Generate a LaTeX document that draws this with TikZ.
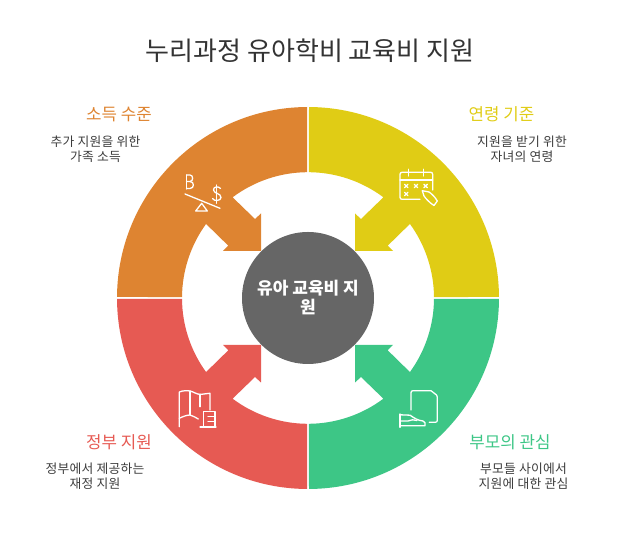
\documentclass[tikz,border=0pt]{standalone}
\usepackage{fontspec}
\setmainfont{Noto Sans CJK KR}
\newfontfamily\bodyfont[LetterSpace=2]{Noto Sans CJK KR}
\definecolor{cOrange}{HTML}{DE8431}
\definecolor{cYellow}{HTML}{E0CC15}
\definecolor{cGreen}{HTML}{3DC686}
\definecolor{cRed}{HTML}{E65A53}
\definecolor{cHub}{HTML}{666666}
\definecolor{cTitle}{HTML}{333333}
\definecolor{cBody}{HTML}{3C3C3C}
\newcommand{\quadpath}{%
  (89.7:191) arc[start angle=89.7,end angle=0.3,radius=191]
  -- (0.45:126) arc[start angle=0.45,end angle=36,radius=126]
  -- (79.7,52.3) -- (85,47) -- (47,47) -- (47,84.5) -- (53,79) -- (75.4,100.7)
  arc[start angle=53.2,end angle=89.55,radius=126] -- cycle}
\tikzset{
  titletext/.style={font=\fontsize{26}{30}\selectfont,text=cTitle,inner sep=0pt},
  headtext/.style={font=\fontsize{16.8}{18}\selectfont,inner sep=0pt},
  bodytext/.style={font=\bodyfont\fontsize{12.8}{15}\selectfont,text=cBody,inner sep=0pt,align=center},
  hubnode/.style={circle,fill=cHub,minimum size=132pt,inner sep=0pt,text=white,align=center,font=\fontsize{17}{19}\selectfont\bfseries},
  icon/.style={draw=white,line width=1.3pt,line cap=round,line join=round}
}
\begin{document}
\begin{tikzpicture}[x=1pt,y=1pt]
\useasboundingbox (0,0) rectangle (621,540);
\node[titletext] (title) at (310,489) {누리과정 유아학비 교육비 지원};
\begin{scope}[shift={(308,242)}]
  \fill[cYellow] \quadpath;
  \begin{scope}[xscale=-1] \fill[cOrange] \quadpath; \end{scope}
  \begin{scope}[yscale=-1] \fill[cGreen] \quadpath; \end{scope}
  \begin{scope}[xscale=-1,yscale=-1] \fill[cRed] \quadpath; \end{scope}
\end{scope}
\node[hubnode] (hub) at (308,242) {유아 교육비 지\\원};
% labels
\node[headtext,text=cOrange] (h1) at (119,425.5) {소득 수준};
\node[bodytext] (b1) at (95.5,391) {추가 지원을 위한\\가족 소득};
\node[headtext,text=cYellow] (h2) at (501.5,425.5) {연령 기준};
\node[bodytext] (b2) at (522,391) {지원을 받기 위한\\자녀의 연령};
\node[headtext,text=cRed] (h3) at (119,97.5) {정부 지원};
\node[bodytext] (b3) at (95,64) {정부에서 제공하는\\재정 지원};
\node[headtext,text=cGreen] (h4) at (510,97.5) {부모의 관심};
\node[bodytext] (b4) at (523.5,64) {부모들 사이에서\\지원에 대한 관심};
% icons use reference pixel coordinates, y downward
\begin{scope}[y=-1pt,shift={(0,-540)}]
  % scale icon
  \draw[icon] (185,194) -- (220,208.3);
  \draw[icon] (201.7,203.3) -- (195.7,211) -- (207.3,211) -- cycle;
  \draw[icon] (186.5,175) -- (186.5,189);
  \draw[icon] (186.5,175) -- (190,175) .. controls (193.5,175) and (193.5,181.5) .. (190,181.5) -- (186.5,181.5);
  \draw[icon] (190,181.5) .. controls (194.5,181.5) and (194.5,188.5) .. (190,188.5) -- (186.5,188.5);
  \draw[icon] (220.5,188.5) .. controls (219,186) and (213,186.5) .. (213.5,190) .. controls (214,194) and (221,193) .. (221,197.5) .. controls (221,201) and (214,201.5) .. (212.5,198.5);
  \draw[icon] (216.7,185) -- (216.7,203.3);
  % calendar
  \draw[icon] (420,199.3) -- (402,199.3) .. controls (400.8,199.3) and (400,198.5) .. (400,197.3) -- (400,174.5) .. controls (400,173) and (400.8,172.3) .. (402,172.3) -- (430.7,172.3) .. controls (431.9,172.3) and (432.7,173) .. (432.7,174.5) -- (432.7,190);
  \draw[icon] (400,180) -- (432.7,180);
  \draw[icon] (408.3,169.3) -- (408.3,176);
  \draw[icon] (423.3,169.3) -- (423.3,176);
  \foreach \px/\py in {406.3/186,416/186,425.6/186,406.3/194}{
    \draw[icon] (\px-1.7,\py-1.7) -- (\px+1.7,\py+1.7) (\px-1.7,\py+1.7) -- (\px+1.7,\py-1.7);
  }
  \draw[icon] (422.3,190.7) -- (429,192) .. controls (432,194) and (435,197) .. (437.3,201) -- (434,205.5) .. controls (430,203) and (426,199) .. (424,196) -- cycle;
  % flag and ledger
  \draw[icon] (179.3,426.7) -- (179.3,392) .. controls (183,390.5) and (187,390.5) .. (190,391) .. controls (194,392) and (197,394.5) .. (200,394.3) .. controls (203,394.3) and (207,393.5) .. (210,393.3) -- (210,410);
  \draw[icon] (190,391) -- (190,415);
  \draw[icon] (179.3,418.3) .. controls (183,416.5) and (187,415) .. (190,415) .. controls (193,415.5) and (196,418) .. (198.3,419);
  \draw[icon] (200,394.3) -- (200,406.7);
  \draw[icon] (200,427) -- (216,427);
  \draw[icon] (203.5,427) -- (203.5,411.7) -- (215,411.7) -- (215,427);
  \draw[icon] (208,416.5) -- (215,416.5) (208,421.5) -- (215,421.5);
  % hand and document
  \draw[icon] (411,410) -- (411,392.7) .. controls (411,391.4) and (411.7,390.7) .. (413,390.7) -- (431,390.7) -- (436.5,395) .. controls (437,395.5) and (437.3,396) .. (437.3,397) -- (437.3,420.3) .. controls (437.3,421.6) and (436.6,422.3) .. (435.3,422.3) -- (429.3,422.3);
  \draw[icon] (400,414) -- (400,427.3);
  \draw[icon] (400,414.8) -- (410,415.2) .. controls (414,418) and (418,420.5) .. (423,421) .. controls (425,421.5) and (425.5,423.5) .. (425,425.7) -- (400,425.7);
  \draw[icon] (400,421) -- (408,421) .. controls (411,419.5) and (414,419.5) .. (417,420.5);
\end{scope}
\end{tikzpicture}
\end{document}
